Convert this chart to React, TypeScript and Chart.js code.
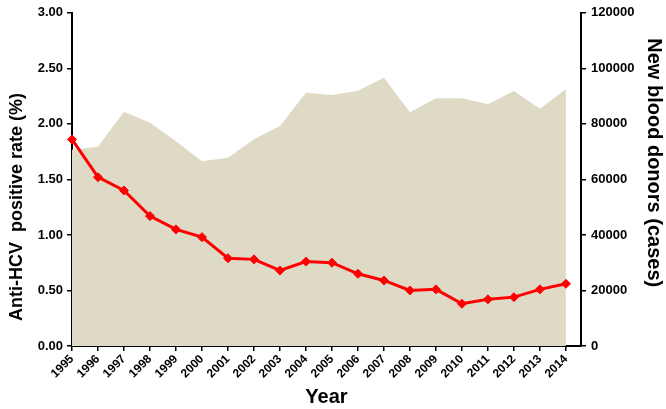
import React, { useEffect, useRef } from "react";
import { Chart, registerables } from "chart.js";

Chart.register(...registerables);

const years = [1995, 1996, 1997, 1998, 1999, 2000, 2001, 2002, 2003, 2004, 2005, 2006, 2007, 2008, 2009, 2010, 2011, 2012, 2013, 2014];
const antiHcvRate = [1.86, 1.52, 1.40, 1.17, 1.05, 0.98, 0.79, 0.78, 0.68, 0.76, 0.75, 0.65, 0.59, 0.50, 0.51, 0.38, 0.42, 0.44, 0.51, 0.56];
const newDonors = [70700, 71800, 84400, 80400, 73700, 66500, 67800, 74500, 79200, 91200, 90400, 91900, 96600, 84200, 89200, 89200, 87100, 91800, 85400, 92500];
const leftTicks = [0, 0.5, 1, 1.5, 2, 2.5, 3];
const rightTicks = [0, 20000, 40000, 60000, 80000, 100000, 120000];

const FONT = "'Liberation Sans', Arial, sans-serif";

export default function App() {
  const ref = useRef<HTMLCanvasElement | null>(null);
  useEffect(() => {
    document.body.style.margin = "0";
    document.body.style.overflow = "hidden";
    const ctx = ref.current!.getContext("2d")!;
    const chart = new Chart(ctx, {
      type: "line",
      data: {
        datasets: [
          {
            label: "Anti-HCV positive rate (%)",
            data: years.map((y, i) => ({ x: y, y: antiHcvRate[i] })),
            yAxisID: "y",
            borderColor: "#ff0000",
            backgroundColor: "#ff0000",
            borderWidth: 3,
            pointStyle: "rectRot",
            pointRadius: 4.5,
            pointBorderWidth: 1,
            fill: false,
            tension: 0,
            clip: false as any,
            order: 0,
          },
          {
            label: "New blood donors (cases)",
            data: years.map((y, i) => ({ x: y, y: newDonors[i] })),
            yAxisID: "y1",
            borderWidth: 0,
            borderColor: "rgba(0,0,0,0)",
            backgroundColor: "rgb(222,218,197)",
            pointRadius: 0,
            fill: "origin",
            tension: 0,
            order: 1,
          },
        ],
      },
      options: {
        animation: false,
        responsive: false,
        maintainAspectRatio: false,
        layout: { padding: { top: 6, left: 0, right: 0, bottom: 0 } },
        plugins: { legend: { display: false }, tooltip: { enabled: false } },
        scales: {
          x: {
            type: "linear",
            min: 1995,
            max: 2014.58,
            afterBuildTicks: (s: any) => {
              s.ticks = years.map((v) => ({ value: v }));
            },
            afterFit: (s: any) => {
              s.height = 63;
            },
            grid: { display: true, drawOnChartArea: false, drawTicks: true, tickLength: 5, color: "#000", lineWidth: 1.5 },
            border: { display: true, color: "#000", width: 2 },
            ticks: {
              autoSkip: false,
              maxRotation: 45,
              minRotation: 45,
              padding: 1,
              color: "#000",
              font: { family: FONT, size: 12, weight: "bold" },
              callback: (v: any) => String(v),
            },
            title: {
              display: true,
              text: "Year",
              color: "#000",
              font: { family: FONT, size: 20, weight: "bold" },
              padding: 0,
            },
          },
          y: {
            type: "linear",
            position: "left",
            min: 0,
            max: 3,
            afterBuildTicks: (s: any) => {
              s.ticks = leftTicks.map((v) => ({ value: v }));
            },
            afterFit: (s: any) => {
              s.width = 72;
            },
            grid: { display: true, drawOnChartArea: false, drawTicks: true, tickLength: 5, color: "#000", lineWidth: 1.5 },
            border: { display: true, color: "#000", width: 2 },
            ticks: {
              padding: 4,
              color: "#000",
              font: { family: FONT, size: 13, weight: "bold" },
              callback: (v: any) => Number(v).toFixed(2),
            },
            title: {
              display: true,
              text: "Anti-HCV  positive rate (%)" + "           ",
              color: "#000",
              font: { family: FONT, size: 18, weight: "bold" },
              padding: { top: 6, bottom: 0 },
            },
          },
          y1: {
            type: "linear",
            position: "right",
            min: 0,
            max: 120000,
            afterBuildTicks: (s: any) => {
              s.ticks = rightTicks.map((v) => ({ value: v }));
            },
            afterFit: (s: any) => {
              s.width = 85;
            },
            grid: { display: true, drawOnChartArea: false, drawTicks: true, tickLength: 5, color: "#000", lineWidth: 1.5 },
            border: { display: true, color: "#000", width: 2 },
            ticks: {
              padding: 5,
              color: "#000",
              font: { family: FONT, size: 13, weight: "bold" },
              callback: (v: any) => String(v),
            },
            title: {
              display: true,
              text: "New blood donors (cases)" + "      ",
              color: "#000",
              font: { family: FONT, size: 20, weight: "bold" },
              padding: { top: 0, bottom: 3 },
            },
          },
        },
      },
    });
    return () => chart.destroy();
  }, []);
  return <canvas ref={ref} width={666} height={409} style={{ display: "block" }} />;
}
